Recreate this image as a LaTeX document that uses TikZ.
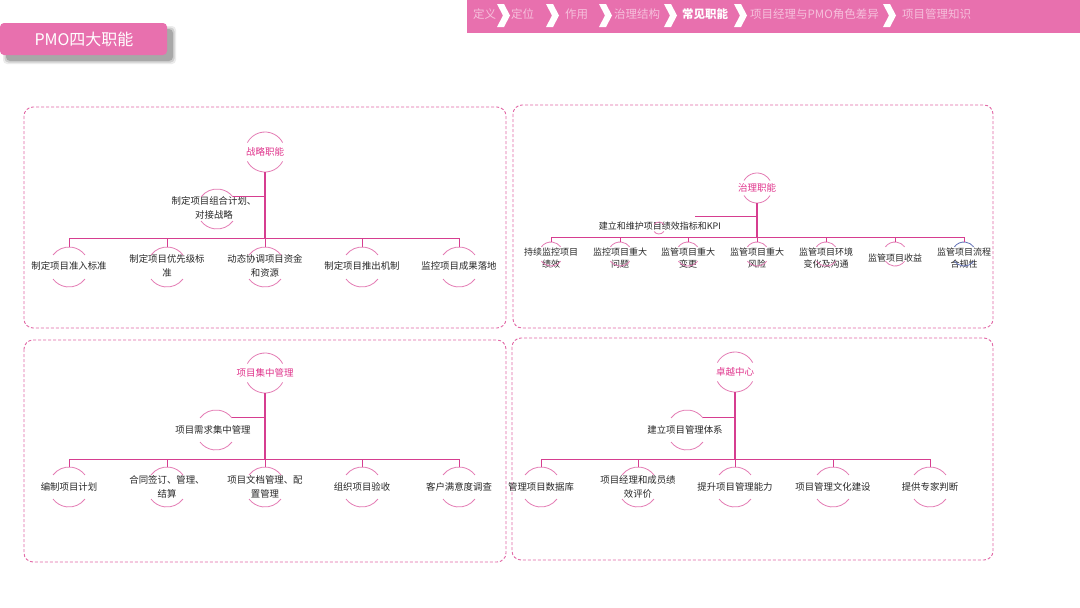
\documentclass[tikz,border=0pt]{standalone}
\usepackage{fontspec}
\setmainfont{Noto Sans CJK SC}
\usetikzlibrary{positioning, calc}
\definecolor{pmopink}{RGB}{232,112,174}
\definecolor{linepink}{RGB}{214,62,144}
\definecolor{arcpink}{RGB}{228,124,180}
\definecolor{titlepink}{RGB}{224,52,140}
\definecolor{navfade}{RGB}{246,192,220}
\definecolor{arcblue}{RGB}{98,114,184}
\definecolor{panelpink}{RGB}{226,104,166}
\definecolor{itemgray}{RGB}{40,40,40}

\tikzset{
  panel/.style={draw=panelpink, dash pattern=on 3pt off 2pt, line width=0.9pt, rounded corners=9pt},
  ring/.style={circle, minimum size=#1, inner sep=0pt},
  arcline/.style={draw=arcpink, line width=0.8pt},
  trunk/.style={draw=linepink, line width=1.7pt},
  bus/.style={draw=linepink, line width=0.9pt},
  rootlbl/.style={text=titlepink, font=\fontsize{9.5}{12}\selectfont, inner sep=0pt},
  itemlbl/.style={align=center, text=itemgray, font=\fontsize{9.4}{14}\selectfont, inner sep=0pt},
  smalllbl/.style={align=center, text=itemgray, font=\fontsize{9}{12.5}\selectfont, inner sep=0pt},
  navtxt/.style={text=navfade, font=\fontsize{11.5}{14}\selectfont, anchor=west, inner sep=0pt},
}

% top and bottom arcs of a ring: [style]{node}{radius}{gap angle}
\newcommand{\ringarcs}[4][arcline]{%
  \draw[#1] (#2.center) ++(#4:#3) arc[start angle=#4, end angle=180-#4, radius=#3];
  \draw[#1] (#2.center) ++(180+#4:#3) arc[start angle=180+#4, end angle=360-#4, radius=#3];
}
% one chevron of the top bar
\newcommand{\chev}[1]{%
  \fill[white] (#1,4) -- ++(7,0) -- ++(6,11.5) -- ++(-6,11.5) -- ++(-7,0) -- ++(6,-11.5) -- cycle;
}

\begin{document}
\begin{tikzpicture}[x=1pt, y=-1pt]
    \useasboundingbox (0,0) rectangle (1080,608);
    \fill[white] (0,0) rectangle (1080,608);

    % Top bar
    \fill[pmopink] (467,0) rectangle (1080,33);
    \node[navtxt] (nv1) at (473,14) {定义};
    \node[navtxt] (nv2) at (511,14) {定位};
    \node[navtxt] (nv3) at (565,14) {作用};
    \node[navtxt] (nv4) at (614,14) {治理结构};
    \node[navtxt, text=white, font=\fontsize{11.5}{14}\selectfont\bfseries] (nv5) at (682,14) {常见职能};
    \node[navtxt] (nv6) at (750,14) {项目经理与PMO角色差异};
    \node[navtxt] (nv7) at (902,14) {项目管理知识};
    \foreach \cx in {497,546,599,664,734,883} {
        \chev{\cx}
    }

    % Title
    \foreach \d/\op in {10/0.08,7/0.12,4/0.18} {
        \fill[black, opacity=\op, rounded corners=4pt] (8-\d/2,31-\d/2) rectangle (171+\d/2,59+\d/2);
    }
    \fill[pmopink, rounded corners=4pt] (0,23) rectangle (167,55);
    \node[text=white, font=\fontsize{16}{18}\selectfont] (ttl) at (84,39) {PMO四大职能};

    % Panels
    \draw[panel] (24,107) rectangle (506,328);
    \draw[panel] (513,105) rectangle (993,328);
    \draw[panel] (24,340) rectangle (506,562);
    \draw[panel] (512,338) rectangle (993,560);

    % Panel 1: strategy
    \node[ring=40pt] (r1) at (265,152) {};
    \node[rootlbl] (r1t) at (r1) {战略职能};
    \ringarcs{r1}{20}{28}
    \coordinate (b1) at (265,238);
    \draw[trunk] (r1.south) -- (b1);
    \node[ring=40pt] (s1) at (217,209) {};
    \node[itemlbl] (s1t) at (214,208) {制定项目组合计划、\\对接战略};
    \ringarcs{s1}{20}{37}
    \draw[bus] (r1.south |- s1.37) -- (s1.37);
    \foreach \cx/\txt [count=\i] in {69/制定项目准入标准, 167/{制定项目优先级标\\准},
        265/{动态协调项目资金\\和资源}, 362/制定项目推出机制, 459/监控项目成果落地} {
        \node[ring=40pt] (c1\i) at (\cx,267) {};
        \node[itemlbl] (t1\i) at (\cx,266) {\txt};
        \ringarcs{c1\i}{20}{37}
        \draw[bus] (c1\i.north |- b1) -- (c1\i.north);
    }
    \draw[bus] (c11.north |- b1) -- (c15.north |- b1);

    % Panel 2: governance
    \node[ring=30pt] (r2) at (757,188) {};
    \node[rootlbl] (r2t) at (r2) {治理职能};
    \ringarcs{r2}{15}{30}
    \coordinate (b2) at (757,237);
    \draw[trunk] (r2.south) -- (b2);
    \coordinate (k2) at (695,216);
    \draw[bus] (r2.south |- k2) -- (k2);
    \node[ring=12pt] (s2) at (659,228) {};
    \node[smalllbl] (s2t) at (660,226) {建立和维护项目绩效指标和KPI};
    \ringarcs{s2}{6}{35}
    \foreach \cx/\txt/\col [count=\i] in {551/{持续监控项目\\绩效}/arcpink, 620/{监控项目重大\\问题}/arcpink,
        688/{监管项目重大\\变更}/arcpink, 757/{监管项目重大\\风险}/arcpink,
        826/{监管项目环境\\变化及沟通}/arcpink, 895/监管项目收益/arcpink,
        964/{监管项目流程\\合规性}/arcblue} {
        \node[ring=24pt] (c2\i) at (\cx,254) {};
        \node[smalllbl] (t2\i) at (\cx,258) {\txt};
        \ringarcs[arcline, draw=\col]{c2\i}{12}{37}
        \draw[bus] (c2\i.north |- b2) -- (c2\i.north);
    }
    \draw[bus] (c21.north |- b2) -- (c27.north |- b2);

    % Panel 3: centralised project management
    \node[ring=40pt] (r3) at (265,373) {};
    \node[rootlbl] (r3t) at (r3) {项目集中管理};
    \ringarcs{r3}{20}{28}
    \coordinate (b3) at (265,459);
    \draw[trunk] (r3.south) -- (b3);
    \node[ring=40pt] (s3) at (216,430) {};
    \node[itemlbl] (s3t) at (213,430) {项目需求集中管理};
    \ringarcs{s3}{20}{37}
    \draw[bus] (r3.south |- s3.37) -- (s3.37);
    \foreach \cx/\txt [count=\i] in {69/编制项目计划, 167/{合同签订、管理、\\结算},
        265/{项目文档管理、配\\置管理}, 362/组织项目验收, 459/客户满意度调查} {
        \node[ring=40pt] (c3\i) at (\cx,487) {};
        \node[itemlbl] (t3\i) at (\cx,487) {\txt};
        \ringarcs{c3\i}{20}{37}
        \draw[bus] (c3\i.north |- b3) -- (c3\i.north);
    }
    \draw[bus] (c31.north |- b3) -- (c35.north |- b3);

    % Panel 4: centre of excellence
    \node[ring=40pt] (r4) at (735,372) {};
    \node[rootlbl] (r4t) at (r4) {卓越中心};
    \ringarcs{r4}{20}{28}
    \coordinate (b4) at (735,459);
    \draw[trunk] (r4.south) -- (b4);
    \node[ring=40pt] (s4) at (687,430) {};
    \node[itemlbl] (s4t) at (685,430) {建立项目管理体系};
    \ringarcs{s4}{20}{37}
    \draw[bus] (r4.south |- s4.37) -- (s4.37);
    \foreach \cx/\txt [count=\i] in {541/管理项目数据库, 638/{项目经理和成员绩\\效评价},
        735/提升项目管理能力, 833/项目管理文化建设, 930/提供专家判断} {
        \node[ring=40pt] (c4\i) at (\cx,487) {};
        \node[itemlbl] (t4\i) at (\cx,487) {\txt};
        \ringarcs{c4\i}{20}{37}
        \draw[bus] (c4\i.north |- b4) -- (c4\i.north);
    }
    \draw[bus] (c41.north |- b4) -- (c45.north |- b4);
\end{tikzpicture}
\end{document}
